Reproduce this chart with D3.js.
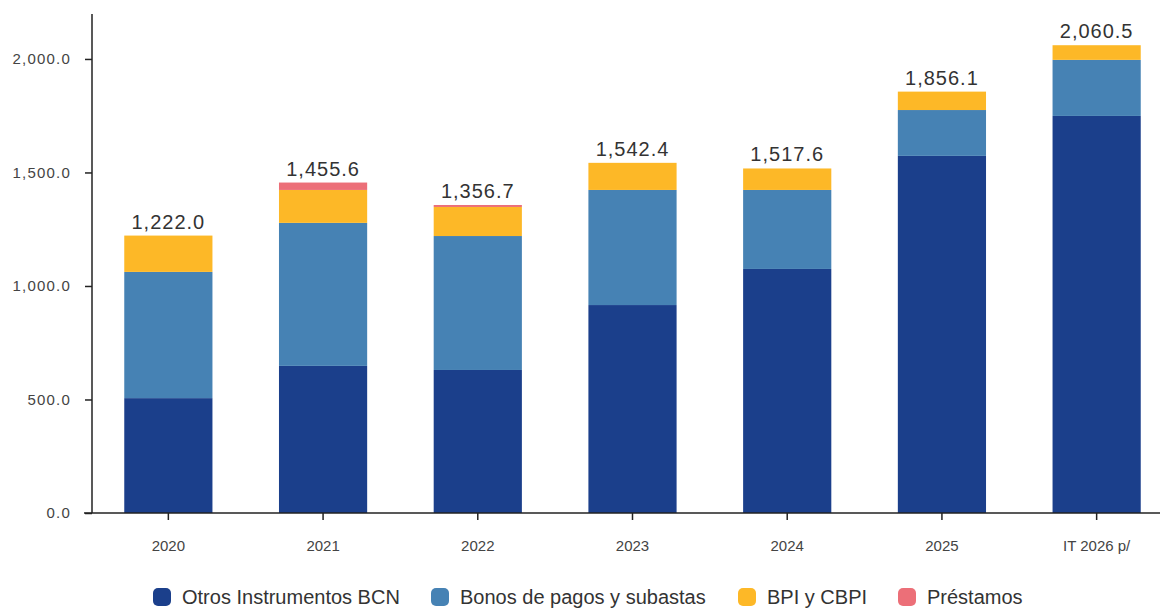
<!DOCTYPE html>
<html>
<head>
<meta charset="utf-8">
<script src="https://cdn.jsdelivr.net/npm/d3@7"></script>
<style>
  body { margin: 0; background: #fff; }
  svg { font-family: "Liberation Sans", Arial, sans-serif; }
</style>
</head>
<body>
<div id="chart"></div>
<script>
const w = 1164;
const h = 608;

// data
const years = ["2020", "2021", "2022", "2023", "2024", "2025", "IT 2026 p/"];
const seriesNames = ["Otros Instrumentos BCN", "Bonos de pagos y subastas", "BPI y CBPI", "Préstamos"];
const otros = [506, 648, 630, 916, 1075, 1573, 1749];
const bonos = [556, 630, 590, 507, 348, 202, 247];
const bpi = [160, 145, 128, 119.4, 94.6, 81.1, 64.5];
const prestamos = [0, 32.6, 8.7, 0, 0, 0, 0];
const totals = [1222.0, 1455.6, 1356.7, 1542.4, 1517.6, 1856.1, 2060.5];
const yTicks = [0, 500, 1000, 1500, 2000];

const colors = ["#1b3f8b", "#4682b4", "#fdb827", "#ec6f78"];

const margin = { top: 14, bottom: 95, left: 92 };

const rows = years.map((y, i) => ({
    year: y,
    s0: otros[i], s1: bonos[i], s2: bpi[i], s3: prestamos[i]
}));

const stack = d3.stack().keys(["s0", "s1", "s2", "s3"]);
const layers = stack(rows);

const x = d3.scaleBand()
    .domain(years)
    .range([91, 1174])
    .paddingInner(0.43)
    .paddingOuter(0.215);

const y = d3.scaleLinear()
    .domain([0, 2198])
    .range([h - margin.bottom, margin.top]);

const svg = d3.select("#chart").append("svg").attr("width", w).attr("height", h);

// bars
svg.selectAll("g.layer")
    .data(layers)
    .enter()
    .append("g")
    .attr("class", "layer")
    .attr("fill", (d, i) => colors[i])
    .selectAll("rect")
    .data(d => d)
    .enter()
    .append("rect")
    .attr("x", d => x(d.data.year))
    .attr("width", x.bandwidth())
    .attr("y", d => y(d[1]))
    .attr("height", d => Math.max(0, y(d[0]) - y(d[1])));

// totals
const fmt = d3.format(",.1f");
svg.append("g")
    .selectAll("text")
    .data(years)
    .enter()
    .append("text")
    .attr("x", d => x(d) + x.bandwidth() / 2)
    .attr("y", (d, i) => y(totals[i]) - 7)
    .attr("text-anchor", "middle")
    .attr("font-size", 20)
    .attr("letter-spacing", 1)
    .attr("fill", "#333")
    .text((d, i) => fmt(totals[i]));

// y axis
const yAxis = svg.append("g")
    .attr("transform", "translate(" + margin.left + ",0)")
    .call(d3.axisLeft(y).tickValues(yTicks).tickFormat(d3.format(",.1f")).tickSizeOuter(0).tickSize(7));
yAxis.select(".domain").attr("stroke", "#222").attr("stroke-width", 1.5)
    .attr("d", "M0," + y(0) + "V" + margin.top);
yAxis.selectAll(".tick line").attr("stroke", "#222").attr("stroke-width", 1.5);
yAxis.selectAll(".tick text")
    .attr("font-size", 15).attr("letter-spacing", 1.2).attr("fill", "#444").attr("x", -21)
    .attr("font-family", "Liberation Sans, Arial, sans-serif");

// x axis
const xAxis = svg.append("g")
    .attr("transform", "translate(0," + y(0) + ")")
    .call(d3.axisBottom(x).tickSizeOuter(0).tickSize(7));
xAxis.select(".domain").attr("stroke", "#222").attr("stroke-width", 1.5)
    .attr("d", "M" + (margin.left - 8) + ",0H" + (w - 4));
xAxis.selectAll(".tick line").attr("stroke", "#222").attr("stroke-width", 1.5);
xAxis.selectAll(".tick text")
    .attr("font-size", 15).attr("fill", "#444").attr("y", 27).attr("dy", "0.71em")
    .attr("font-family", "Liberation Sans, Arial, sans-serif");

// legend
const legendX = [153, 431, 738, 898];
const legend = svg.append("g")
    .selectAll("g")
    .data(seriesNames)
    .enter()
    .append("g")
    .attr("transform", (d, i) => "translate(" + legendX[i] + ",588)");
legend.append("rect")
    .attr("width", 18).attr("height", 18).attr("rx", 5)
    .attr("fill", (d, i) => colors[i]);
legend.append("text")
    .attr("x", 29).attr("y", 16)
    .attr("font-size", 20)
    .attr("fill", "#333")
    .text(d => d);
</script>
</body>
</html>
